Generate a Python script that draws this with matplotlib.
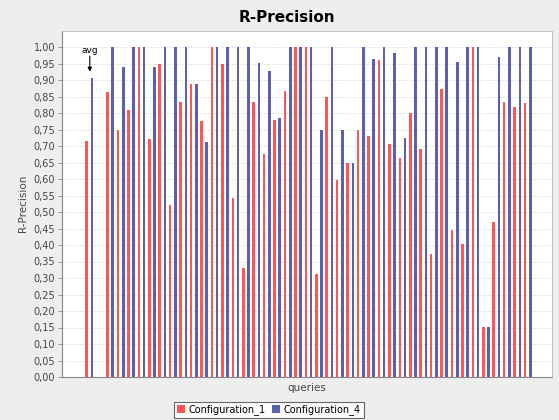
import matplotlib
matplotlib.use("Agg")
import matplotlib.pyplot as plt
import numpy as np

categories = ["avg", "q0"] + [f"q{i}" for i in range(1, 42)]
config_1 = [0.715, 0.0,
            0.863, 0.75, 0.81, 1.0, 0.72, 0.95, 0.52, 0.832, 0.887, 0.775,
            1.0, 0.95, 0.541, 0.331, 0.834, 0.677, 0.78, 0.867, 1.0, 1.0,
            0.313, 0.849, 0.597, 0.648, 0.748, 0.73, 0.961, 0.707, 0.664, 0.799,
            0.69, 0.373, 0.873, 0.445, 0.403, 1.0, 0.151, 0.471, 0.834, 0.817,
            0.831]
config_4 = [0.905, 0.0,
            1.0, 0.938, 1.0, 1.0, 0.938, 1.0, 1.0, 1.0, 0.887, 0.711,
            1.0, 1.0, 1.0, 1.0, 0.953, 0.926, 0.786, 1.0, 1.0, 1.0,
            0.748, 1.0, 0.748, 0.648, 1.0, 0.964, 1.0, 0.983, 0.724, 1.0,
            1.0, 1.0, 1.0, 0.954, 1.0, 1.0, 0.151, 0.969, 1.0, 1.0,
            1.0]
series_names = ["Configuration_1", "Configuration_4"]
y_ticks = np.round(np.arange(0, 1.0001, 0.05), 2)

RED = "#FF5555"
BLUE = "#5B5FB0"

fig = plt.figure(figsize=(5.59, 4.20), dpi=100)
fig.patch.set_facecolor("#EEEEEE")
ax = fig.add_axes([62/559, 43/420, 490/559, (377-30.5)/420])
ax.set_facecolor("white")

x = np.arange(len(categories))
w = 0.25
ax.bar(x - 0.25, config_1, width=w, color=RED, label=series_names[0], zorder=3)
ax.bar(x + 0.25, config_4, width=w, color=BLUE, label=series_names[1], zorder=3)

ax.set_xlim(-2.615, 44.33)
ax.set_ylim(0, 1.05)
ax.set_yticks(y_ticks)
ax.set_yticklabels([f"{v:.2f}".replace(".", ",") for v in y_ticks], fontsize=7, color="#444444")
ax.set_xticks([])
ax.yaxis.grid(True, linestyle=(0, (1.5, 2)), color="#D0D0D0", linewidth=0.6, zorder=0)
ax.tick_params(axis="y", length=3, width=0.6, color="#888888", pad=2)

for s in ["top", "right"]:
    ax.spines[s].set_color("#BBBBBB")
    ax.spines[s].set_linewidth(0.6)
for s in ["left", "bottom"]:
    ax.spines[s].set_color("#888888")
    ax.spines[s].set_linewidth(0.8)

ax.set_ylabel("R-Precision", fontsize=7.5, color="#444444", labelpad=4)
ax.set_xlabel("queries", fontsize=7.5, color="#444444", labelpad=4)

fig.text(287/559, 1 - 18/420, "R-Precision", ha="center", va="center",
         fontsize=11, fontweight="bold", color="black")

ax.text(0.05, 0.99, "avg", ha="center", va="center", fontsize=6.5, zorder=5)
ax.annotate("", xy=(0.05, 0.925), xytext=(0.05, 0.972),
            arrowprops=dict(arrowstyle="-|>", color="black", lw=0.8,
                            mutation_scale=6, shrinkA=0, shrinkB=0), zorder=5)

leg = fig.legend(loc="center", bbox_to_anchor=(269/559, 1 - 410/420), ncol=2,
                 fontsize=7, frameon=True, fancybox=False, handlelength=0.8,
                 handleheight=0.8, handletextpad=0.4, columnspacing=0.6,
                 borderpad=0.3, borderaxespad=0)
leg.get_frame().set_edgecolor("#444444")
leg.get_frame().set_linewidth(0.8)

fig.savefig("out.png", dpi=100, facecolor=fig.get_facecolor())
